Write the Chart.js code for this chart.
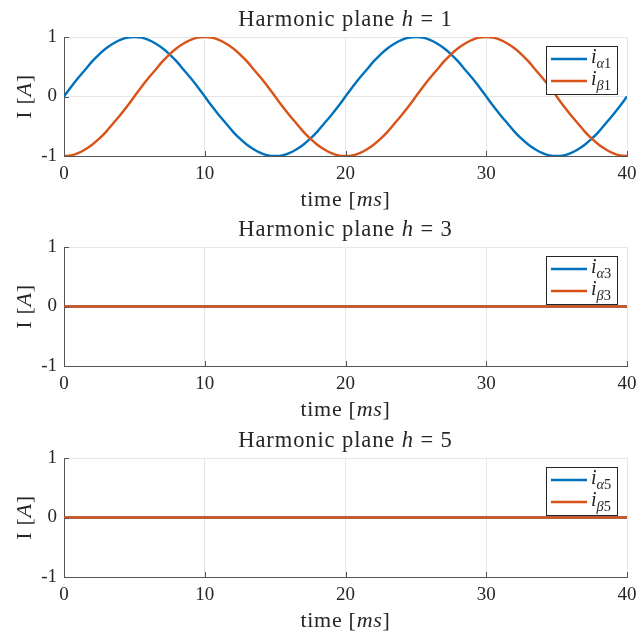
<!DOCTYPE html>
<html>
<head>
<meta charset="utf-8">
<script src="https://cdn.jsdelivr.net/npm/chart.js@4.4.1/dist/chart.umd.min.js"></script>
<style>
  body { margin: 0; background: #fff; }
  #wrap { position: relative; width: 638px; height: 636px; }
  .plot { position: absolute; left: 0; width: 638px; height: 215px; }
</style>
</head>
<body>
<div id="wrap">
  <div class="plot" style="top:0px"><canvas id="plane1" width="638" height="215"></canvas></div>
  <div class="plot" style="top:210px"><canvas id="plane3" width="638" height="215"></canvas></div>
  <div class="plot" style="top:421px"><canvas id="plane5" width="638" height="215"></canvas></div>
</div>
<script>
// time axis in ms, sampled every 0.5 ms
const time = [
  0, 0.5, 1, 1.5, 2, 2.5, 3, 3.5, 4, 4.5,
  5, 5.5, 6, 6.5, 7, 7.5, 8, 8.5, 9, 9.5,
  10, 10.5, 11, 11.5, 12, 12.5, 13, 13.5, 14, 14.5,
  15, 15.5, 16, 16.5, 17, 17.5, 18, 18.5, 19, 19.5,
  20, 20.5, 21, 21.5, 22, 22.5, 23, 23.5, 24, 24.5,
  25, 25.5, 26, 26.5, 27, 27.5, 28, 28.5, 29, 29.5,
  30, 30.5, 31, 31.5, 32, 32.5, 33, 33.5, 34, 34.5,
  35, 35.5, 36, 36.5, 37, 37.5, 38, 38.5, 39, 39.5,
  40
];

// plane h = 1 currents [A]
const iAlpha1 = [
  0, 0.16, 0.31, 0.45, 0.59, 0.71, 0.81, 0.89, 0.95, 0.99,
  1, 0.99, 0.95, 0.89, 0.81, 0.71, 0.59, 0.45, 0.31, 0.16,
  0, -0.16, -0.31, -0.45, -0.59, -0.71, -0.81, -0.89, -0.95, -0.99,
  -1, -0.99, -0.95, -0.89, -0.81, -0.71, -0.59, -0.45, -0.31, -0.16,
  0, 0.16, 0.31, 0.45, 0.59, 0.71, 0.81, 0.89, 0.95, 0.99,
  1, 0.99, 0.95, 0.89, 0.81, 0.71, 0.59, 0.45, 0.31, 0.16,
  0, -0.16, -0.31, -0.45, -0.59, -0.71, -0.81, -0.89, -0.95, -0.99,
  -1, -0.99, -0.95, -0.89, -0.81, -0.71, -0.59, -0.45, -0.31, -0.16,
  0
];
const iBeta1 = [
  -1, -0.99, -0.95, -0.89, -0.81, -0.71, -0.59, -0.45, -0.31, -0.16,
  0, 0.16, 0.31, 0.45, 0.59, 0.71, 0.81, 0.89, 0.95, 0.99,
  1, 0.99, 0.95, 0.89, 0.81, 0.71, 0.59, 0.45, 0.31, 0.16,
  0, -0.16, -0.31, -0.45, -0.59, -0.71, -0.81, -0.89, -0.95, -0.99,
  -1, -0.99, -0.95, -0.89, -0.81, -0.71, -0.59, -0.45, -0.31, -0.16,
  0, 0.16, 0.31, 0.45, 0.59, 0.71, 0.81, 0.89, 0.95, 0.99,
  1, 0.99, 0.95, 0.89, 0.81, 0.71, 0.59, 0.45, 0.31, 0.16,
  0, -0.16, -0.31, -0.45, -0.59, -0.71, -0.81, -0.89, -0.95, -0.99,
  -1
];

// planes h = 3 and h = 5 carry no current
const timeFlat = [0, 10, 20, 30, 40];
const iAlpha3 = [0, 0, 0, 0, 0];
const iBeta3 = [0, 0, 0, 0, 0];
const iAlpha5 = [0, 0, 0, 0, 0];
const iBeta5 = [0, 0, 0, 0, 0];

const xTicks = [0, 10, 20, 30, 40];
const yTicks = [-1, 0, 1];

const SERIF = '"Liberation Serif", "DejaVu Serif", serif';
const BLUE = '#0072BD';
const ORANGE = '#D95319';
const AXIS = '#555555';
const TEXT = '#262626';

// draw a run of text pieces (italic / subscript) starting at x or centred on x
function drawRich(ctx, segs, x, y, size, align, spacing = 0) {
  ctx.letterSpacing = spacing + 'px';
  const parts = segs.map((s) => {
    const fs = s.sub ? size * 0.72 : size;
    const font = `${s.it ? 'italic ' : ''}${fs}px ${SERIF}`;
    ctx.font = font;
    return { ...s, font, w: ctx.measureText(s.t).width };
  });
  const total = parts.reduce((a, p) => a + p.w, 0);
  let cx = align === 'center' ? x - total / 2 : x;
  ctx.textAlign = 'left';
  ctx.textBaseline = 'alphabetic';
  for (const p of parts) {
    ctx.font = p.font;
    ctx.fillText(p.t, cx, y + (p.sub ? size * 0.24 : 0));
    cx += p.w;
  }
  ctx.letterSpacing = '0px';
}

const decorPlugin = {
  id: 'decor',
  afterDraw(chart, args, opts) {
    const { ctx, chartArea: a, scales } = chart;
    ctx.save();

    // inward tick marks
    ctx.strokeStyle = AXIS;
    ctx.lineWidth = 1;
    ctx.beginPath();
    xTicks.forEach((v) => {
      const px = Math.round(scales.x.getPixelForValue(v)) + 0.5;
      ctx.moveTo(px, a.bottom);
      ctx.lineTo(px, a.bottom - 5);
    });
    yTicks.forEach((v) => {
      const py = Math.round(scales.y.getPixelForValue(v)) + 0.5;
      ctx.moveTo(a.left, py);
      ctx.lineTo(a.left + 5, py);
    });
    ctx.stroke();

    ctx.fillStyle = TEXT;
    const cx = (a.left + a.right) / 2;

    // title
    drawRich(ctx, [
      { t: 'Harmonic plane ' },
      { t: 'h', it: true },
      { t: ' = ' + opts.h },
    ], cx, a.top - 11, 22.5, 'center', 0.9);

    // x axis label
    drawRich(ctx, [
      { t: 'time [' },
      { t: 'ms', it: true },
      { t: ']' },
    ], cx, a.bottom + 50, 22, 'center', 0.7);

    // y axis label
    ctx.save();
    ctx.translate(31, (a.top + a.bottom) / 2);
    ctx.rotate(-Math.PI / 2);
    drawRich(ctx, [
      { t: 'I [' },
      { t: 'A', it: true },
      { t: ']' },
    ], 0, 0, 22, 'center', 0.7);
    ctx.restore();

    // legend box
    const bx = a.right - 81, by = a.top + 9, bw = 71, bh = 48;
    ctx.fillStyle = '#ffffff';
    ctx.fillRect(bx, by, bw, bh);
    ctx.strokeStyle = TEXT;
    ctx.lineWidth = 1;
    ctx.strokeRect(bx + 0.5, by + 0.5, bw, bh);
    chart.data.datasets.forEach((ds, i) => {
      const ly = by + 13 + i * 22;
      ctx.strokeStyle = ds.borderColor;
      ctx.lineWidth = 2.4;
      ctx.beginPath();
      ctx.moveTo(bx + 5, ly);
      ctx.lineTo(bx + 41, ly);
      ctx.stroke();
      ctx.fillStyle = TEXT;
      drawRich(ctx, [
        { t: 'i', it: true },
        { t: ds.sym, it: true, sub: true },
        { t: String(opts.h), sub: true },
      ], bx + 45, ly + 4, 20, 'left');
    });

    ctx.restore();
  },
};

function makePlane(canvasId, h, tx, alpha, beta) {
  const pts = (arr) => tx.map((t, i) => ({ x: t, y: arr[i] }));
  const line = {
    borderWidth: 2.4,
    pointRadius: 0,
    cubicInterpolationMode: 'monotone',
  };
  return new Chart(document.getElementById(canvasId), {
    type: 'line',
    data: {
      datasets: [
        {
          ...line,
          label: `i_alpha${h}`,
          sym: 'α',
          data: pts(alpha),
          borderColor: BLUE,
          order: 1,
        },
        {
          ...line,
          label: `i_beta${h}`,
          sym: 'β',
          data: pts(beta),
          borderColor: ORANGE,
          order: 0,
        },
      ],
    },
    options: {
      responsive: false,
      animation: false,
      layout: { padding: { left: 0, right: 11, top: 37, bottom: 0 } },
      plugins: {
        legend: { display: false },
        tooltip: { enabled: false },
        decor: { h },
      },
      scales: {
        x: {
          type: 'linear',
          min: 0,
          max: 40,
          afterBuildTicks: (s) => { s.ticks = xTicks.map((v) => ({ value: v })); },
          afterFit: (s) => {
            s.height = 59;
            s.paddingLeft = 0;
            s.paddingRight = 0;
          },
          ticks: {
            font: { family: SERIF, size: 19 },
            color: TEXT,
            padding: 7,
            maxRotation: 0,
          },
          grid: { color: '#e6e6e6', drawTicks: false },
          border: { color: AXIS, width: 1 },
        },
        y: {
          min: -1,
          max: 1,
          afterBuildTicks: (s) => { s.ticks = yTicks.map((v) => ({ value: v })); },
          afterFit: (s) => {
            s.width = 64;
            s.paddingTop = 0;
            s.paddingBottom = 0;
          },
          ticks: {
            font: { family: SERIF, size: 19 },
            color: TEXT,
            padding: 7,
          },
          grid: { color: '#e6e6e6', drawTicks: false },
          border: { color: AXIS, width: 1 },
        },
      },
    },
    plugins: [decorPlugin],
  });
}

makePlane('plane1', 1, time, iAlpha1, iBeta1);
makePlane('plane3', 3, timeFlat, iAlpha3, iBeta3);
makePlane('plane5', 5, timeFlat, iAlpha5, iBeta5);
</script>
</body>
</html>
